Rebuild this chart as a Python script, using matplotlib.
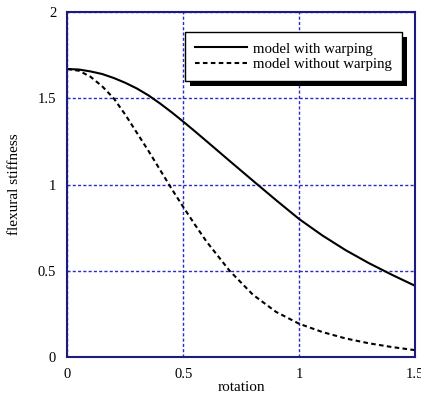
import numpy as np
import matplotlib
matplotlib.use('Agg')
import matplotlib.pyplot as plt
from matplotlib.patches import Rectangle

# values
rotation = [0.0, 0.05, 0.1, 0.15, 0.2, 0.25, 0.3, 0.35, 0.4, 0.45, 0.5, 0.55,
            0.6, 0.7, 0.8, 0.9, 1.0, 1.1, 1.2, 1.3, 1.4, 1.5]
with_warping = [1.67, 1.667, 1.656, 1.641, 1.618, 1.59, 1.557, 1.517, 1.47, 1.419, 1.365, 1.309,
                1.252, 1.137, 1.023, 0.91, 0.80, 0.705, 0.62, 0.545, 0.477, 0.413]
without_warping = [1.67, 1.66, 1.625, 1.57, 1.50, 1.405, 1.30, 1.195, 1.085, 0.975, 0.87, 0.768,
                   0.67, 0.50, 0.362, 0.262, 0.193, 0.145, 0.108, 0.08, 0.058, 0.04]

plt.rcParams['font.family'] = ['Liberation Serif', 'DejaVu Serif']

fig = plt.figure(figsize=(4.21, 4.03), dpi=100)
ax = fig.add_axes([0.160, 0.114, 0.826, 0.856])

ax.plot(rotation, with_warping, color='black', lw=1.5, label='model with warping')
ax.plot(rotation, without_warping, color='black', lw=1.5, dashes=(2.2, 1.6),
        label='model without warping')

ax.set_xlim(0, 1.5)
ax.set_ylim(0, 2)
ax.set_xticks([0, 0.5, 1, 1.5])
ax.set_xticklabels(['0', '0.5', '1', '1.5'])
ax.set_yticks([0, 0.5, 1, 1.5, 2])
ax.set_yticklabels(['0', '0.5', '1', '1.5', '2'])
ax.tick_params(length=0, labelsize=10.5, pad=8)
ax.grid(True, color='#2b2bc4', linestyle=(0, (2.2, 1.6)), lw=1.0)
for s in ax.spines.values():
    s.set_color('#1c1c80')
    s.set_linewidth(1.5)

ax.set_xlabel('rotation', fontsize=11, labelpad=0)
ax.set_ylabel('flexural stiffness', fontsize=11, labelpad=12)

leg = ax.legend(loc='upper left', bbox_to_anchor=(0.338, 0.943), fontsize=10.7,
                handlelength=3.45, handletextpad=0.4, fancybox=False,
                borderpad=0.7, labelspacing=0.12, framealpha=1, borderaxespad=0)
leg.get_frame().set_edgecolor('black')
leg.get_frame().set_linewidth(1.0)
leg.set_zorder(6)

# heavier drop shadow than the built-in one
fig.canvas.draw()
bb = leg.get_window_extent().transformed(fig.transFigure.inverted())
dx, dy = 5 / 421, 5 / 403
ax.add_patch(Rectangle((bb.x0 + dx, bb.y0 - dy), bb.width, bb.height,
                       transform=fig.transFigure, facecolor='black',
                       edgecolor='none', zorder=5.5, clip_on=False))

fig.savefig('out.png', dpi=100)
